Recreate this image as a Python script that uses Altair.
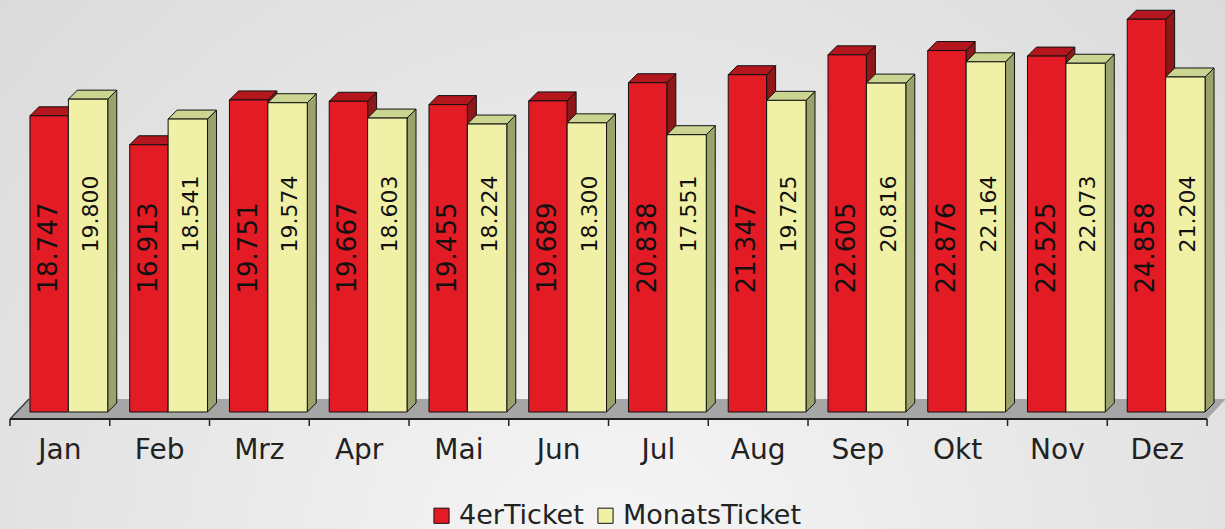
import altair as alt
import pandas as pd

# ---- data ----
months = ["Jan", "Feb", "Mrz", "Apr", "Mai", "Jun", "Jul", "Aug", "Sep", "Okt", "Nov", "Dez"]
ticket_4er = [18747, 16913, 19751, 19667, 19455, 19689, 20838, 21347, 22605, 22876, 22525, 24858]
ticket_monat = [19800, 18541, 19574, 18603, 18224, 18300, 17551, 19725, 20816, 22164, 22073, 21204]
series_names = ["4erTicket", "MonatsTicket"]

# ---- style ----
FRONT = ["#e21b24", "#f0f0a6"]
TOP = ["#b3161d", "#cbd491"]
SIDE = ["#8e1719", "#9aa36b"]
SLOT = [(0.20, 0.585), (0.585, 0.98)]
LABEL_X = [0.392, 0.81]
DX = 0.09      # depth in category units
DY = 570       # depth in value units
X_DOM = [-0.1003, 12.18]
Y_DOM = [-7405, 26076]
FONT = "DejaVu Sans"

xs = alt.Scale(domain=X_DOM, nice=False, zero=False)
ys = alt.Scale(domain=Y_DOM, nice=False, zero=False)

fronts, tops, sides = [], [], []
for s, vals in enumerate([ticket_4er, ticket_monat]):
    for i, v in enumerate(vals):
        xl, xr = i + SLOT[s][0], i + SLOT[s][1]
        key = f"{s}-{i}"
        fronts.append(dict(series=series_names[s], s=s, x=xl, x2=xr, v=v,
                           lx=i + LABEL_X[s], txt=f"{v:,}".replace(",", ".")))
        tops.append(dict(key=key, s=s, y=v, x=xl, x2=xr, fill=TOP[s]))
        tops.append(dict(key=key, s=s, y=v + DY, x=xl + DX, x2=xr + DX, fill=TOP[s]))
        sides.append(dict(key=key, s=s, x=xr, y=v, y2=0, fill=SIDE[s]))
        sides.append(dict(key=key, s=s, x=xr + DX, y=v + DY, y2=DY, fill=SIDE[s]))
fronts = pd.DataFrame(fronts)
tops = pd.DataFrame(tops)
sides = pd.DataFrame(sides)

floor = pd.DataFrame({"y": [-443, 823], "x": [0, 0.19], "x2": [12, 12.19]})
ticks = pd.DataFrame({"k": list(range(13))})
mlabels = pd.DataFrame({"m": months, "c": [i + 0.5 for i in range(12)]})

bg = alt.Chart(pd.DataFrame({"a": [0]})).mark_rect(
    color=alt.Gradient(gradient="radial", x1=0.5, y1=0.75, x2=0.5, y2=0.75, r1=0, r2=0.85,
                       stops=[alt.GradientStop(color="#f6f6f6", offset=0),
                              alt.GradientStop(color="#d4d4d4", offset=1)])
).encode(x=alt.value(0), x2=alt.value(1225), y=alt.value(0), y2=alt.value(529))

floor_l = alt.Chart(floor).mark_area(orient="horizontal", color="#a6a6a6").encode(
    y=alt.Y("y:Q", scale=ys, axis=None), x=alt.X("x:Q", scale=xs, axis=None), x2="x2:Q")
floor_edge = alt.Chart(floor).mark_line(color="#333", strokeWidth=1.2).encode(
    y=alt.Y("y:Q", scale=ys, axis=None), x=alt.X("x:Q", scale=xs, axis=None))
front_edge = alt.Chart(floor.iloc[:1]).mark_rule(color="#222", strokeWidth=2).encode(
    y=alt.Y("y:Q", scale=ys, axis=None), x=alt.X("x:Q", scale=xs, axis=None), x2="x2:Q")
tick_l = alt.Chart(ticks).mark_rule(color="#222", strokeWidth=1.5).encode(
    x=alt.X("k:Q", scale=xs, axis=None), y=alt.value(419), y2=alt.value(426))

side_l = alt.Chart(sides).mark_area(stroke="#111", strokeWidth=1).encode(
    x=alt.X("x:Q", scale=xs, axis=None), y=alt.Y("y:Q", scale=ys, axis=None), y2="y2:Q",
    detail="key:N", color=alt.Color("fill:N", scale=None))

def top_layer(s):
    return alt.Chart(tops[tops.s == s]).mark_area(orient="horizontal", stroke="#111", strokeWidth=1).encode(
        y=alt.Y("y:Q", scale=ys, axis=None), x=alt.X("x:Q", scale=xs, axis=None), x2="x2:Q",
        detail="key:N", color=alt.Color("fill:N", scale=None))

front_l = alt.Chart(fronts).mark_rect(stroke="#111", strokeWidth=1).encode(
    x=alt.X("x:Q", scale=xs, axis=None), x2="x2:Q",
    y=alt.Y("v:Q", scale=ys, axis=None), y2=alt.datum(0),
    color=alt.Color("series:N", scale=alt.Scale(domain=series_names, range=FRONT),
                    legend=alt.Legend(orient="none", legendX=428, legendY=502, direction="horizontal",
                                      title=None, symbolType="square", symbolSize=230,
                                      symbolStrokeColor="#111", symbolStrokeWidth=1,
                                      labelFontSize=27, labelFont=FONT, labelColor="#222",
                                      labelLimit=0, labelOffset=4, columnPadding=8, symbolOpacity=1)))

def label_layer(s, size, ypix):
    return alt.Chart(fronts[fronts.s == s]).mark_text(
        angle=270, fontSize=size, font=FONT, color="#111", align="center", baseline="middle"
    ).encode(x=alt.X("lx:Q", scale=xs, axis=None), y=alt.value(ypix), text="txt:N")

month_l = alt.Chart(mlabels).mark_text(fontSize=28, font=FONT, color="#222", baseline="alphabetic").encode(
    x=alt.X("c:Q", scale=xs, axis=None), y=alt.value(459), text="m:N")

chart = alt.layer(
    bg, floor_l, floor_edge, front_edge, tick_l, side_l, top_layer(0), top_layer(1), front_l,
    label_layer(0, 26, 248), label_layer(1, 22, 214), month_l
).properties(
    width=1225, height=529, autosize=alt.AutoSizeParams(type="none"), padding=0
).configure_view(stroke=None)

chart.save("out.html", embed_options={"renderer": "svg", "actions": False})
